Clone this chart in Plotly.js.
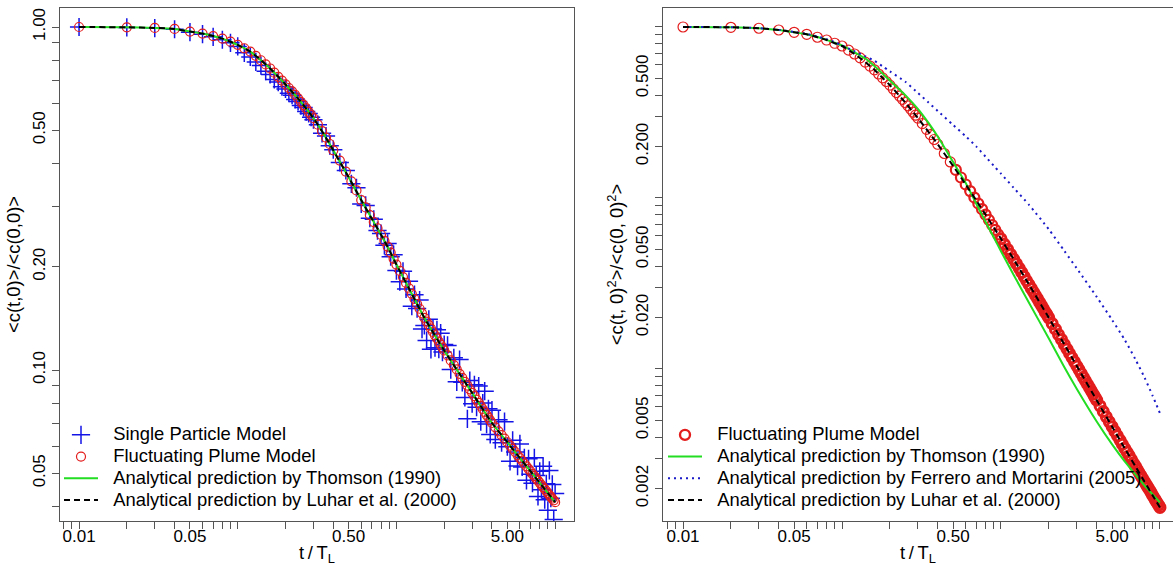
<!DOCTYPE html>
<html>
<head>
<meta charset="utf-8">
<script src="https://cdn.plot.ly/plotly-3.0.1.min.js"></script>
<style>html,body{margin:0;padding:0;background:#fff;}#chart{width:1173px;height:566px;}</style>
</head>
<body>
<div id="chart"></div>
<script>
// ---- data: time grid for the marker series (t / T_L) ----
const tGrid = [0.01,0.02,0.03,0.04,0.05,0.06,0.07,0.08,0.09,0.10,
 0.11,0.12,0.13,0.14,0.15,0.16,0.17,0.18,0.19,0.20,0.21,0.22,0.23,0.24,0.25,0.26,0.27,0.28,0.29,0.30,
 0.32,0.34,0.36,0.38,0.40,
 0.44,0.48,0.52,0.56,0.60,0.64,0.68,0.72,0.76,0.80,0.84,0.88,0.92,0.96,1.00,
 1.05,1.10,1.15,1.20,1.25,1.30,1.35,1.40,1.45,1.50,1.55,1.60,1.65,1.70,1.75,1.80,1.85,1.90,1.95,2.00,
 2.1,2.2,2.3,2.4,2.5,2.6,2.7,2.8,2.9,3.0,3.1,3.2,3.3,3.4,3.5,3.6,3.7,3.8,3.9,4.0,
 4.2,4.4,4.6,4.8,5.0,5.2,5.4,5.6,5.8,6.0,6.2,6.4,6.6,6.8,7.0,7.2,7.4,7.6,7.8,8.0,8.2,8.4,8.6,8.8,9.0,9.2,9.4,9.6,9.8,10.0];

// left panel: <c(t,0)>/<c(0,0)>
const singleParticle = [1.000,0.997,0.993,0.985,0.966,0.953,0.936,0.918,0.899,0.878,
 0.841,0.818,0.791,0.772,0.743,0.727,0.703,0.691,0.670,0.660,0.641,0.633,0.615,0.607,0.590,0.583,0.567,0.560,0.546,0.537,
 0.519,0.490,0.481,0.451,0.439,
 0.403,0.382,0.349,0.340,0.305,0.302,0.277,0.275,0.255,0.250,0.231,0.234,0.214,0.217,0.195,
 0.1809,0.1941,0.1723,0.1815,0.1535,0.1659,0.1511,0.1600,0.1317,0.1349,0.1219,0.1406,0.1149,0.1317,0.1162,0.1310,0.1150,0.1281,0.1128,0.1187,
 0.1180,0.1003,0.1086,0.0924,0.1073,0.0921,0.0832,0.0721,0.0932,0.0798,0.0906,0.0779,0.0898,0.0707,0.0801,0.0868,0.0696,0.0771,0.0649,0.0764,
 0.0627,0.0716,0.0614,0.0707,0.0598,0.0542,0.0624,0.0577,0.0525,0.0609,0.0522,0.0555,0.0477,0.0551,0.0497,0.0468,0.0555,0.0493,0.0428,0.0507,0.0448,0.0524,0.0419,0.0466,0.0390,0.0510,0.0423,0.0464,0.0367,0.0437];

const plumeLeft = [1.000,0.998,0.994,0.987,0.970,0.957,0.941,0.925,0.906,0.887,
 0.867,0.848,0.824,0.800,0.778,0.757,0.736,0.716,0.698,0.680,0.664,0.649,0.634,0.619,0.605,0.592,0.579,0.566,0.554,0.542,
 0.519,0.497,0.476,0.456,0.437,
 0.408,0.379,0.355,0.334,0.313,0.298,0.283,0.270,0.259,0.248,0.238,0.229,0.220,0.211,0.203,
 0.1945,0.1866,0.1795,0.1729,0.1668,0.1611,0.1558,0.1509,0.1463,0.1420,0.1385,0.1352,0.1321,0.1291,0.1263,0.1236,0.1211,0.1186,0.1163,0.1141,
 0.1103,0.1067,0.1034,0.1004,0.0975,0.0949,0.0924,0.0901,0.0879,0.0858,0.0839,0.0820,0.0802,0.0786,0.0770,0.0755,0.0740,0.0727,0.0713,0.0701,
 0.0681,0.0663,0.0646,0.0631,0.0616,0.0602,0.0589,0.0577,0.0565,0.0554,0.0544,0.0534,0.0524,0.0515,0.0507,0.0498,0.0491,0.0483,0.0476,0.0469,0.0462,0.0456,0.0450,0.0444,0.0438,0.0432,0.0427,0.0422,0.0417,0.0412];

// right panel: <c(t,0)^2>/<c(0,0)^2>
const plumeRight = [1.000,0.996,0.983,0.960,0.931,0.906,0.871,0.839,0.803,0.774,
 0.732,0.695,0.660,0.623,0.591,0.562,0.531,0.504,0.480,0.457,0.434,0.4135,0.3946,0.3774,0.3616,0.3457,0.3311,0.3175,0.3050,0.2933,
 0.2721,0.2522,0.2350,0.2198,0.2061,
 0.1820,0.1624,0.1459,0.1318,0.1199,0.1097,0.1006,0.0928,0.0860,0.0799,0.0744,0.0695,0.0651,0.0612,0.0577,
 0.0536,0.0500,0.0468,0.0439,0.0413,0.0389,0.0367,0.0347,0.0328,0.0312,0.0296,0.0282,0.0269,0.0257,0.0245,0.0235,0.0225,0.0215,0.0207,0.0199,
 0.0184,0.0171,0.0159,0.01488,0.01394,0.01309,0.01232,0.01163,0.01100,0.01041,0.00988,0.00939,0.00894,0.00852,0.00814,0.00778,0.00745,0.00713,0.00684,0.00657,
 0.00608,0.00564,0.00525,0.00491,0.00460,0.00432,0.00407,0.00384,0.00363,0.00344,0.00327,0.00311,0.00296,0.00282,0.00270,0.00258,0.00247,0.00237,0.00228,0.00219,0.00211,0.00203,0.00196,0.00189,0.00182,0.00176,0.00170,0.00165,0.00160,0.00155];

// analytical curves
const tLine = [0.01,0.02,0.03,0.04,0.05,0.06,0.07,0.08,0.09,0.1,0.12,0.14,0.16,0.18,0.2,0.25,0.3,0.35,0.4,0.5,0.6,0.7,0.8,0.9,1,1.2,1.5,2,2.5,3,4,5,6,7,8,9,10];
const thomsonLeft = [1.000,0.998,0.994,0.987,0.970,0.957,0.941,0.925,0.906,0.887,0.848,0.800,0.757,0.716,0.680,0.605,0.542,0.486,0.437,0.365,0.313,0.276,0.248,0.224,0.203,0.1729,0.142,0.1141,0.0975,0.0858,0.0701,0.0616,0.0554,0.0507,0.0469,0.0438,0.0412];
const luharLeft   = [1.000,0.998,0.994,0.987,0.970,0.957,0.941,0.925,0.906,0.887,0.848,0.800,0.757,0.716,0.680,0.605,0.542,0.486,0.437,0.365,0.313,0.276,0.248,0.224,0.203,0.1729,0.142,0.1141,0.0975,0.0858,0.0701,0.0616,0.0554,0.0507,0.0469,0.0438,0.0412];
const thomsonRight = [1.000,0.996,0.983,0.960,0.932,0.907,0.873,0.841,0.808,0.780,0.710,0.655,0.591,0.5335,0.486,0.3995,0.332,0.2748,0.2286,0.1622,0.1222,0.0923,0.0726,0.0589,0.0488,0.0356,0.0244,0.01507,0.01026,0.00764,0.00493,0.00362,0.00288,0.00242,0.00208,0.001845,0.001656];
const ferreroRight = [1.000,0.996,0.984,0.962,0.935,0.911,0.879,0.849,0.816,0.781,0.7206,0.674,0.634,0.5886,0.5505,0.478,0.412,0.3614,0.3227,0.2675,0.2295,0.1998,0.1743,0.1545,0.1387,0.1149,0.0912,0.0655,0.0491,0.0387,0.0264,0.01935,0.01483,0.01141,0.0089,0.00696,0.0055];
const luharRight = [1.000,0.996,0.983,0.960,0.931,0.906,0.871,0.839,0.803,0.774,0.695,0.623,0.562,0.504,0.457,0.3616,0.2933,0.2434,0.2061,0.1539,0.1199,0.0966,0.0799,0.0673,0.0577,0.0439,0.0312,0.0199,0.01394,0.01041,0.00657,0.00460,0.00344,0.00270,0.00219,0.00182,0.00155];

// tick labels
const xTickVals = [0.008,0.009,0.01,0.02,0.03,0.04,0.05,0.06,0.07,0.08,0.09,0.1,0.2,0.3,0.4,0.5,0.6,0.7,0.8,0.9,1,2,3,4,5,6,7,8,9,10];
const xTickText = ['','','0.01','','','','0.05','','','','','','','','','0.50','','','','','','','','','5.00','','','','',''];
const yTickVals = [0.04,0.05,0.06,0.07,0.08,0.09,0.1,0.2,0.3,0.4,0.5,0.6,0.7,0.8,0.9,1];
const yTickText = ['','0.05','','','','','0.10','0.20','','','0.50','','','','','1.00'];
const y2TickVals = [0.002,0.003,0.004,0.005,0.006,0.007,0.008,0.009,0.01,0.02,0.03,0.04,0.05,0.06,0.07,0.08,0.09,0.1,0.2,0.3,0.4,0.5,0.6,0.7,0.8,0.9,1];
const y2TickText = ['0.002','','','0.005','','','','','','0.020','','','0.050','','','','','','0.200','','','0.500','','','','',''];

const names = {
  single: 'Single Particle Model',
  plume: 'Fluctuating Plume Model',
  thomson: 'Analytical prediction by Thomson (1990)',
  ferrero: 'Analytical prediction by Ferrero and Mortarini (2005)',
  luhar: 'Analytical prediction by Luhar et al. (2000)'
};
const lg = s => '<span style="font-size:18.4px">\u00a0\u00a0' + s + '</span>';

const BLUE = '#1414e6', RED = '#e31c1c', GREEN = '#22dd22';
// ring outline gets heavier where the model's samples pile up into a band (style only)
const ringWidthRight = tGrid.map(t => t < 0.5 ? 1.2 : (t < 1 ? 2.2 : 3));

const traces = [
  {x: tGrid, y: singleParticle, xaxis:'x', yaxis:'y', mode:'markers', name: lg(names.single), legend:'legend',
   marker:{symbol:'cross-thin-open', size:13, color:BLUE, line:{width:1.5, color:BLUE}}},
  {x: tGrid, y: plumeLeft, xaxis:'x', yaxis:'y', mode:'markers', name: lg(names.plume), legend:'legend',
   marker:{symbol:'circle-open', size:9, color:RED, line:{width:1.2, color:RED}}},
  {x: tLine, y: thomsonLeft, xaxis:'x', yaxis:'y', mode:'lines', name: lg(names.thomson), legend:'legend',
   line:{color:GREEN, width:2, shape:'spline', smoothing:0.6}},
  {x: tLine, y: luharLeft, xaxis:'x', yaxis:'y', mode:'lines', name: lg(names.luhar), legend:'legend',
   line:{color:'#000', width:2, dash:'6px,4px', shape:'spline', smoothing:0.6}},

  {x: tGrid, y: plumeRight, xaxis:'x2', yaxis:'y2', mode:'markers', name: lg(names.plume), legend:'legend2',
   marker:{symbol:'circle-open', size:10, color:RED, line:{width:ringWidthRight, color:RED}}},
  {x: tLine, y: thomsonRight, xaxis:'x2', yaxis:'y2', mode:'lines', name: lg(names.thomson), legend:'legend2',
   line:{color:GREEN, width:2, shape:'spline', smoothing:0.6}},
  {x: tLine, y: ferreroRight, xaxis:'x2', yaxis:'y2', mode:'lines', name: lg(names.ferrero), legend:'legend2',
   line:{color:'#1a1ac8', width:2, dash:'2px,4px', shape:'spline', smoothing:0.6}},
  {x: tLine, y: luharRight, xaxis:'x2', yaxis:'y2', mode:'lines', name: lg(names.luhar), legend:'legend2',
   line:{color:'#000', width:2, dash:'6px,4px', shape:'spline', smoothing:0.6}}
];

const W = 1173, H = 566;
const AX = '#555';
function xAxis(domain, range, anchor) {
  return {type:'log', domain: domain, range: range, anchor: anchor,
    tickmode:'array', tickvals: xTickVals, ticktext: xTickText,
    ticks:'outside', ticklen:7, tickwidth:1, tickcolor:AX, ticklabelstandoff:-7,
    showline:true, linecolor:AX, linewidth:1, mirror:true,
    showgrid:false, zeroline:false, automargin:false,
    tickfont:{size:17, color:'#000'},
    title:{text:'t\u2009/\u2009T<sub>L</sub>', font:{size:18.4, color:'#000'}, standoff:6}};
}
function yAxis(domain, range, anchor, vals, text, title, mirror) {
  return {type:'log', domain: domain, range: range, anchor: anchor,
    tickmode:'array', tickvals: vals, ticktext: text, tickangle:-90,
    ticks:'outside', ticklen:7, tickwidth:1, tickcolor:AX,
    showline:true, linecolor:AX, linewidth:1, mirror: mirror,
    showgrid:false, zeroline:false, automargin:false,
    tickfont:{size:17, color:'#000'},
    title:{text: title, font:{size:18.4, color:'#000'}, standoff:4}};
}
const yDom = [45/H, 558/H];
const layout = {
  width: W, height: H,
  margin:{l:0, r:0, t:0, b:0},
  paper_bgcolor:'#fff', plot_bgcolor:'#fff',
  font:{family:'"Liberation Sans", Arial, sans-serif', color:'#000', size:17},
  showlegend:true,
  xaxis: xAxis([60/W, 574/W], [-2.12, 1.119], 'y'),
  yaxis: yAxis(yDom, [-1.44, 0.0554], 'x', yTickVals, yTickText, '&lt;c(t,0)&gt;/&lt;c(0,0)&gt;', true),
  xaxis2: xAxis([663/W, 1], [-2.126, 1.082], 'y2'),
  yaxis2: yAxis(yDom, [-2.889, 0.111], 'x2', y2TickVals, y2TickText, '&lt;c(t, 0)<sup>2</sup>&gt;/&lt;c(0, 0)<sup>2</sup>&gt;', false),
  legend:{x:59/W, y:1-419/H, xanchor:'left', yanchor:'top', bgcolor:'rgba(0,0,0,0)', borderwidth:0,
          font:{size:14.4, color:'#000'}, itemwidth:34, tracegroupgap:0},
  legend2:{x:663/W, y:1-419/H, xanchor:'left', yanchor:'top', bgcolor:'rgba(0,0,0,0)', borderwidth:0,
          font:{size:14.4, color:'#000'}, itemwidth:34, tracegroupgap:0}
};
Plotly.newPlot('chart', traces, layout, {staticPlot:true, displayModeBar:false});
</script>
</body>
</html>
